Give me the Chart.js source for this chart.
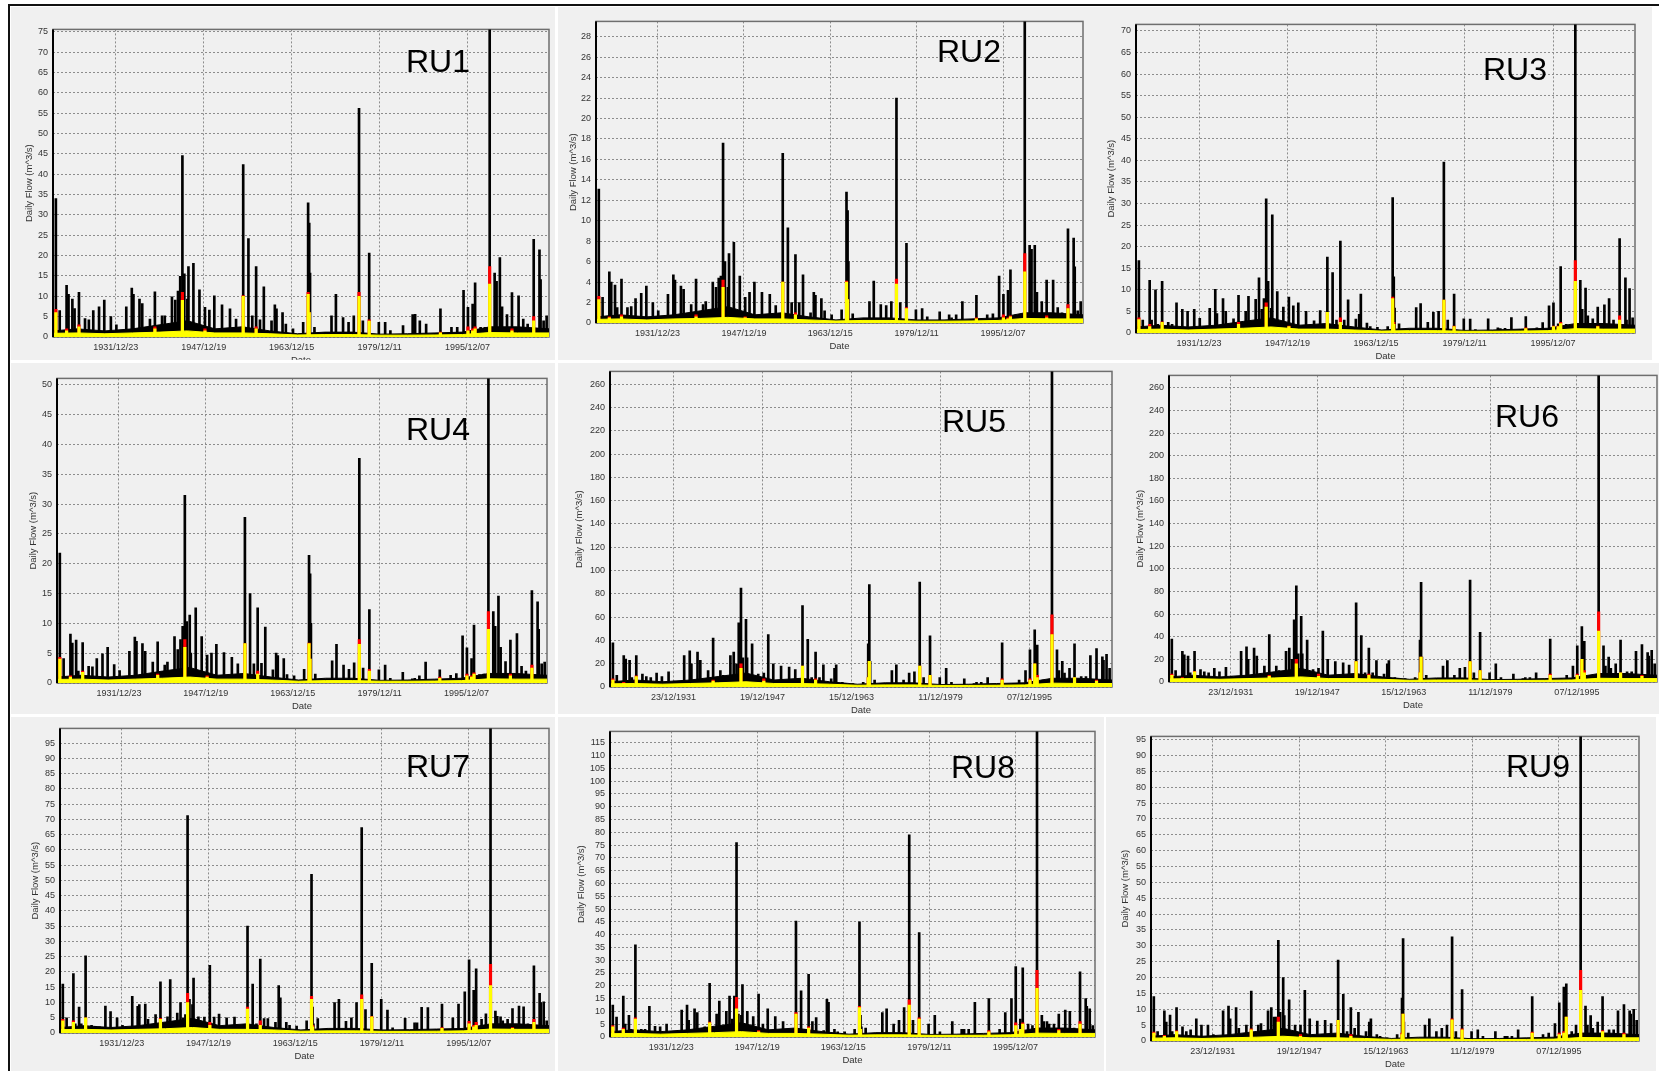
<!DOCTYPE html>
<html>
<head>
<meta charset="utf-8">
<title>Daily Flow RU1 - RU9</title>
<script src="https://cdn.jsdelivr.net/npm/chart.js@4.4.1/dist/chart.umd.min.js"></script>
<style>
  html, body { margin: 0; padding: 0; background: #fff; }
  body { width: 1659px; height: 1071px; position: relative; overflow: hidden; }
  .marco-sup { position: absolute; left: 8px; top: 4px; width: 1651px; height: 2px; background: #111; }
  .marco-izq { position: absolute; left: 8px; top: 4px; width: 2px; height: 1067px; background: #111; }
  .panel { position: absolute; background: #f0f0f0; overflow: hidden; }
  .panel canvas { position: absolute; }
</style>
</head>
<body>
<div class="marco-sup"></div>
<div class="marco-izq"></div>
<script>
// Fechas (año decimal) de los picos de caudal, comunes a las nueve subcuencas
var eventYears = [
  1921.1, 1921.8, 1923.05, 1923.4, 1924.1, 1924.5, 1925.3, 1926.4, 1927.1, 1927.9,
  1928.95, 1929.9, 1931.1, 1932.1, 1933.9, 1934.9, 1935.2, 1936.3, 1936.8, 1938.2,
  1939.1, 1940.4, 1940.9, 1942.2, 1942.8, 1943.3, 1943.7, 1944.1, 1944.45, 1945.0,
  1945.2, 1946.1, 1947.2, 1948.2, 1949.0, 1949.9, 1951.3, 1952.75, 1953.85, 1955.15,
  1956.1, 1956.8, 1957.5, 1958.2, 1958.9, 1960.3, 1960.9, 1961.2, 1962.3, 1962.9,
  1964.2, 1966.05, 1966.95, 1967.15, 1967.3, 1968.1, 1971.2, 1972.0, 1973.3, 1974.3,
  1975.25, 1976.2, 1976.9, 1978.05, 1979.8, 1980.95, 1981.9, 1984.2, 1985.95, 1986.4,
  1987.25, 1988.4, 1991.0, 1993.0, 1994.05, 1995.2, 1996.0, 1996.85, 1997.3, 1998.3,
  1999.1, 1999.95, 2000.85, 2001.2, 2001.8, 2002.2, 2003.1, 2004.0, 2005.2, 2006.05,
  2006.85, 2007.95, 2009.0, 2009.2, 2009.75, 2010.3
];

// Caudal diario en cada pico (m^3/s) - serie negra
var ru1Flow = [34, 6.5, 12.7, 10.5, 9.3, 7, 11, 4.5, 4.2, 6.5,
  7.4, 9.1, 5, 3, 7.4, 12, 10.5, 9.3, 8.2, 4.4,
  11.1, 5.2, 5.2, 9.9, 9.1, 11.3, 14.9, 44.6, 15.5, 9.3,
  17.3, 18.1, 11.6, 7.3, 6.6, 10.1, 7.9, 6.9, 4.4, 42.4,
  24.2, 5.2, 17.3, 4.2, 12.3, 4, 7.9, 6.9, 6, 3.2,
  2, 3.6, 33, 28, 15.7, 2.4, 5.2, 10.5, 4.8, 3.6,
  5.2, 56.2, 4, 20.6, 3.6, 3.6, 1.6, 2.8, 5.5, 5.6,
  4, 3.2, 6.9, 2.4, 2.4, 11.5, 7.3, 8.1, 13.3, 2.4,
  2.4, 80, 15.7, 13.7, 19.5, 7.4, 5.5, 10.9, 10.1, 4.4,
  3.2, 24, 21.4, 14.1, 4, 5.2];
var ru2Flow = [13.1, 2.5, 5, 4, 3.7, 1.5, 4.3, 1.5, 1.6, 2.4,
  2.9, 3.6, 2, 1.2, 2.8, 4.7, 4.2, 3.6, 3.3, 1.8,
  4.3, 1.8, 2.1, 4, 3.5, 4.4, 4.6, 17.6, 6, 3.5,
  6.8, 7.9, 4.6, 2.5, 3, 4, 3, 2.8, 1.7, 16.6,
  9.3, 2, 6.7, 2, 4.7, 1, 3, 2.7, 2.4, 1.2,
  0.8, 1.3, 12.8, 11, 6, 0.9, 2.1, 4.1, 1.8, 1.7,
  2.1, 22, 2, 7.8, 1.3, 1.4, 0.6, 1.1, 0.8, 0.5,
  0.8, 2.1, 2.7, 0.8, 0.9, 4.6, 2.8, 3.2, 5.2, 0.8,
  0.8, 32, 7.6, 7.2, 7.6, 3, 2.1, 4.2, 4.2, 1.5,
  1, 9.2, 8.3, 5.5, 1.2, 2.1];
var ru3Flow = [16.8, 3, 12.2, 3, 10, 2, 12, 2.5, 2, 7,
  5.5, 5, 5.5, 3.4, 5.7, 10.1, 4.5, 8, 5, 3.3,
  8.7, 5, 8.5, 7.8, 12.8, 5.5, 8, 31.1, 12, 5.7,
  27.4, 9.6, 6, 8.3, 6.3, 7, 5, 2.8, 5.2, 17.6,
  14, 3, 21.3, 3, 7.7, 3.2, 4.3, 9, 2.3, 1.5,
  1.3, 1.5, 31.4, 13, 5.8, 2.1, 5.9, 6.8, 2.5, 4.8,
  5, 39.6, 3, 9, 3.3, 3.2, 0.8, 3.3, 1.2, 1,
  1.1, 3.6, 3.8, 1.2, 2.4, 6.3, 7, 2.1, 15.4, 2,
  1.8, 75, 12.2, 5.5, 10.4, 4, 3.3, 6, 6.5, 8,
  3, 21.9, 12.8, 3, 10.3, 3.5];
var ru4Flow = [21.8, 4.1, 8.2, 6.7, 7.2, 2, 6.8, 2.8, 2.7, 4.1,
  4.9, 6, 3.1, 2.1, 5.3, 7.7, 7, 6.6, 5.3, 3.5,
  6.9, 3, 3.5, 7.8, 5.6, 7.3, 9.5, 31.5, 10.3, 11.4,
  5, 12.6, 7.8, 4.7, 5, 6.5, 5.1, 4.3, 3.2, 27.8,
  15, 3.2, 12.6, 3.3, 9.4, 2.2, 5, 4.6, 4.1, 1.4,
  1.2, 2.3, 21.4, 18.3, 10, 1.5, 3.7, 6.5, 3, 2.3,
  3.4, 37.7, 2.5, 12.3, 2.2, 3, 0.8, 1.8, 0.7, 0.8,
  1.2, 3.5, 2.2, 1.3, 1.6, 7.9, 5.9, 4.1, 9.7, 1.4,
  1.5, 55, 12, 9.5, 14.6, 6, 3.6, 7.2, 8.3, 2.8,
  2, 15.5, 13.6, 9, 3.2, 3.5];
var ru5Flow = [38, 10, 27, 24, 23, 8, 27, 11, 9, 8,
  12, 9, 13, 5, 27, 31, 20, 30, 23, 14,
  42, 14, 10, 27, 30, 20, 55, 85, 25, 58,
  25, 37, 11, 12, 45, 20, 18, 17, 15, 70,
  41, 8, 30, 8, 19, 7, 16, 19, 4, 3,
  3, 4, 37, 88, 22, 6, 14, 19, 6, 12,
  13, 90, 8, 44, 8, 16, 4, 7, 3, 4,
  4, 8, 38, 3, 6, 14, 32, 49, 36, 6,
  6, 290, 32, 14, 22, 12, 16, 37, 9, 9,
  27, 33, 26, 23, 28, 16];
var ru6Flow = ru5Flow; // RU5 y RU6 muestran la misma serie
var ru7Flow = [16, 5, 19.5, 3, 8.5, 3, 25.3, 2.5, 2.2, 2,
  8.8, 7, 5, 2.5, 12, 8.7, 9.3, 9.5, 4.5, 6,
  16.8, 5.3, 17.5, 6.5, 10, 5, 6, 71.2, 11, 9.3,
  18, 5.3, 5.2, 22.2, 5.2, 6.2, 5, 5.2, 2.3, 35,
  16, 3, 24.2, 4.7, 4.7, 3.5, 15.5, 11.5, 3.5, 2.5,
  2.3, 4, 52, 8.5, 3, 4.7, 10, 11, 3.8, 5,
  10, 67.3, 7.7, 22.8, 11, 7.5, 1.7, 4.8, 3.3, 3.3,
  8.4, 8.3, 9.5, 5, 9.5, 13.5, 24, 14, 21, 4.5,
  6.3, 110, 7.2, 5.5, 5.3, 4, 4.5, 8, 8.8, 8.6,
  3, 22, 13, 10, 10.2, 4];
var ru8Flow = [12.5, 7.8, 16, 5, 8.5, 3, 36, 3, 3, 12,
  4.2, 4, 5, 2, 10.5, 12.5, 6.5, 11, 9.5, 4,
  21, 9, 14, 10, 16, 7, 16, 76, 9, 8.5,
  20.5, 10, 8, 16.8, 5, 11, 8, 6, 3, 45.3,
  18, 3, 24.5, 6, 7.6, 2.5, 14.7, 13.5, 3, 2,
  2, 3, 45, 8.5, 4, 3.5, 9.5, 11, 5, 6.5,
  11.5, 79, 6.5, 40.8, 5, 8.5, 2, 6, 3, 3,
  3, 13.5, 15, 3, 9.5, 15, 27.5, 7, 27, 5,
  4.5, 130, 8.5, 6, 6, 5, 5, 9, 10.5, 10,
  3.5, 25.5, 15, 12, 11, 4.5];
var ru9Flow = [14, 3, 9.5, 6, 8.2, 3, 10.5, 4.5, 3, 3.5,
  7, 5, 5, 2, 9.5, 11, 7, 10.5, 4, 5,
  15.7, 5, 5.5, 9.5, 10.5, 7.5, 7.5, 31.7, 9, 20,
  8, 13, 5, 5, 16, 7, 6.3, 6.5, 5.5, 25.5,
  14.7, 3, 10.5, 4, 9, 3, 6, 7, 2, 1.5,
  1, 2, 13.5, 32.3, 6, 2.5, 5, 7, 3, 4,
  5, 32.8, 3, 16.2, 3, 3.5, 1.5, 3, 1.5, 1.5,
  1.5, 3.5, 14, 2, 2.5, 5.5, 12, 17, 18, 3,
  5, 105, 11, 5, 8, 4, 6, 14, 3.5, 3.5,
  9.5, 11.5, 9.5, 8.5, 10, 6.5];

// Picos con serie amarilla y roja
var markYears = [1921.1, 1923.05, 1925.3, 1939.1, 1944.1, 1948.2, 1955.15, 1957.5, 1966.95, 1967.15,
  1976.2, 1978.05, 1991.0, 1996.0, 1996.85, 1997.3, 1999.95, 2004.0, 2007.95];
var ru1Yellow = [6, 1.5, 2.5, 2, 9, 1.5, 10, 2, 10.5, 6, 10, 3.9, 1, 1.5, 1.5, 2, 13, 1.5, 4];
var ru1Red = [6.8, 2, 3, 2.5, 11, 2, 10.2, 2.5, 11, 6, 11, 4.2, 1.2, 2.5, 2, 2.5, 17.3, 2, 5];
var ru2Yellow = [2.3, 0.5, 0.6, 0.6, 3.5, 0.5, 4, 0.8, 4, 2.3, 3.8, 1.4, 0.4, 0.5, 0.4, 0.6, 5, 0.5, 1.4];
var ru2Red = [2.6, 0.6, 0.8, 0.8, 4.2, 0.6, 4, 1, 4.1, 2.3, 4.3, 1.5, 0.5, 0.8, 0.5, 0.7, 6.8, 0.7, 1.8];
var ru3Yellow = [3.1, 1.5, 2.5, 2, 6, 1.5, 4.8, 2.5, 8, 2, 7.6, 1.5, 1, 1.5, 1.5, 2.2, 12, 1.5, 3];
var ru3Red = [3.5, 2, 2.6, 2.5, 7, 1.6, 4.8, 3.5, 8.3, 2.5, 7.6, 1.6, 1.2, 1.6, 1.6, 2.5, 16.8, 1.6, 4];
var ru4Yellow = [4, 1, 1.8, 1.3, 6, 1, 6.6, 1.5, 6.6, 4, 6.5, 2, 0.8, 1.2, 1, 1.5, 9, 1.2, 2.5];
var ru4Red = [4.3, 1.2, 2, 1.5, 7.3, 1.2, 6.6, 2, 6.7, 4, 7.3, 2.3, 1, 1.5, 1.2, 1.7, 12, 1.5, 3];
var ru5Yellow = [6, 3, 9, 5, 16, 5, 18, 6, 8, 22, 18, 10, 6, 6, 20, 8, 45, 8, 5];
var ru5Red = [7, 4, 9.5, 6, 20, 7, 18, 7, 8, 22, 18, 10, 7, 7, 20, 10, 62, 8, 6];
var ru6Yellow = ru5Yellow;
var ru6Red = ru5Red;
var ru7Yellow = [4, 3.5, 5, 4.5, 10, 2.5, 7.8, 2.5, 11, 2, 11, 5.3, 1.5, 3, 2, 2.5, 15.5, 1.5, 3.5];
var ru7Red = [4.5, 4, 5, 4.8, 13, 3.5, 8.5, 4, 12, 2.5, 12.5, 5.5, 1.8, 3.8, 2.5, 3.5, 22.5, 1.8, 4.5];
var ru8Yellow = [4, 3, 7, 5.5, 11, 2, 9, 3.5, 11.5, 3, 12.5, 7, 2, 4.5, 3, 5, 19, 2.5, 5];
var ru8Red = [4.5, 3.5, 7.5, 5.8, 15.5, 2.5, 9.5, 4, 12, 3, 14.5, 7.5, 2.5, 5.5, 3, 5.5, 26, 3, 6];
var ru9Yellow = [2.5, 1.5, 3, 3.5, 6, 1.5, 6.5, 1.5, 2, 8.5, 6.7, 3.5, 2.5, 2, 2.5, 7.5, 16, 3, 2];
var ru9Red = [2.8, 1.8, 3.2, 3.8, 7.5, 2, 6.5, 2, 2.5, 8.5, 7, 3.8, 2.8, 2.5, 3, 7.5, 22.3, 3.3, 2.5];

// Nivel del caudal base (zona densa del fondo), negro y amarillo
var floorYears = [1920.58, 1925, 1930, 1935, 1940, 1945, 1950, 1955, 1960, 1965,
  1970, 1975, 1980, 1985, 1990, 1995, 2000, 2005, 2010.73];
var ru1Floor = [1.5, 2, 1.5, 2, 3, 4, 2, 2.5, 1.5, 0.8, 1.2, 1.2, 0.7, 0.8, 1, 1.2, 2.5, 2.5, 2];
var ru1Base = [0.9, 1, 0.8, 1, 1.2, 1.5, 1, 1, 0.8, 0.5, 0.6, 0.6, 0.45, 0.45, 0.5, 0.6, 1.1, 1, 1];
var ru2Floor = [0.6, 0.8, 0.6, 0.8, 1.2, 1.6, 0.8, 1, 0.6, 0.3, 0.5, 0.5, 0.3, 0.3, 0.4, 0.5, 1, 1, 0.8];
var ru2Base = [0.35, 0.4, 0.3, 0.4, 0.45, 0.55, 0.4, 0.4, 0.3, 0.2, 0.25, 0.25, 0.18, 0.18, 0.2, 0.25, 0.45, 0.4, 0.4];
var ru3Floor = [1.4, 1.8, 1.4, 1.8, 2.7, 3.5, 1.8, 2.2, 1.4, 0.7, 1.1, 1.1, 0.6, 0.7, 0.9, 1.1, 2.2, 2.2, 1.8];
var ru3Base = [0.8, 0.9, 0.7, 0.9, 1.1, 1.4, 0.9, 0.9, 0.7, 0.45, 0.55, 0.55, 0.4, 0.4, 0.45, 0.55, 1, 0.9, 0.9];
var ru4Floor = [1, 1.3, 1, 1.3, 2, 2.6, 1.3, 1.6, 1, 0.5, 0.8, 0.8, 0.45, 0.5, 0.65, 0.8, 1.6, 1.6, 1.3];
var ru4Base = [0.6, 0.65, 0.5, 0.65, 0.8, 1, 0.65, 0.65, 0.5, 0.3, 0.4, 0.4, 0.3, 0.3, 0.33, 0.4, 0.7, 0.65, 0.65];
var ru5Floor = [4.5, 6, 4.5, 6, 9, 12, 6, 7.5, 4.5, 2.4, 3.6, 3.6, 2.1, 2.4, 3, 3.6, 7.5, 7.5, 6];
var ru5Base = [2.7, 3, 2.4, 3, 3.6, 4.5, 3, 3, 2.4, 1.5, 1.8, 1.8, 1.35, 1.35, 1.5, 1.8, 3.3, 3, 3];
var ru6Floor = ru5Floor;
var ru6Base = ru5Base;
var ru7Floor = [1.8, 2.4, 1.8, 2.4, 3.6, 4.8, 2.4, 3, 1.8, 1, 1.5, 1.5, 1, 1.1, 1.3, 1.5, 3, 3, 2.4];
var ru7Base = [1.1, 1.2, 1, 1.2, 1.4, 1.8, 1.2, 1.2, 1, 0.6, 0.7, 0.7, 0.55, 0.55, 0.6, 0.7, 1.3, 1.2, 1.2];
var ru8Floor = [2.1, 2.8, 2.1, 2.8, 4.2, 5.6, 2.8, 3.5, 2.1, 1.1, 1.7, 1.7, 1, 1.1, 1.4, 1.7, 3.5, 3.5, 2.8];
var ru8Base = [1.3, 1.4, 1.1, 1.4, 1.7, 2.1, 1.4, 1.4, 1.1, 0.7, 0.85, 0.85, 0.65, 0.65, 0.7, 0.85, 1.5, 1.4, 1.4];
var ru9Floor = [1.5, 2, 1.5, 2, 3, 4, 2, 2.5, 1.5, 0.8, 1.2, 1.2, 0.7, 0.8, 1, 1.2, 2.5, 2.5, 2];
var ru9Base = [0.9, 1, 0.8, 1, 1.2, 1.5, 1, 1, 0.8, 0.5, 0.6, 0.6, 0.45, 0.45, 0.5, 0.6, 1.1, 1, 1];

// Ejes
var tickYears = [1931.975, 1947.965, 1963.953, 1979.942, 1995.932];
var labelsYMD = ['1931/12/23', '1947/12/19', '1963/12/15', '1979/12/11', '1995/12/07'];
var labelsDMY = ['23/12/1931', '19/12/1947', '15/12/1963', '11/12/1979', '07/12/1995'];
var panelNames = ['RU1', 'RU2', 'RU3', 'RU4', 'RU5', 'RU6', 'RU7', 'RU8', 'RU9'];
var yMax = [75.6, 29.5, 71.5, 51.1, 271, 271, 99.8, 119.4, 96];
var yStep = [5, 2, 5, 5, 20, 20, 5, 5, 5];

var flows = [ru1Flow, ru2Flow, ru3Flow, ru4Flow, ru5Flow, ru6Flow, ru7Flow, ru8Flow, ru9Flow];
var yellows = [ru1Yellow, ru2Yellow, ru3Yellow, ru4Yellow, ru5Yellow, ru6Yellow, ru7Yellow, ru8Yellow, ru9Yellow];
var reds = [ru1Red, ru2Red, ru3Red, ru4Red, ru5Red, ru6Red, ru7Red, ru8Red, ru9Red];
var floors = [ru1Floor, ru2Floor, ru3Floor, ru4Floor, ru5Floor, ru6Floor, ru7Floor, ru8Floor, ru9Floor];
var bases = [ru1Base, ru2Base, ru3Base, ru4Base, ru5Base, ru6Base, ru7Base, ru8Base, ru9Base];

// Posicion de cada captura en la lamina (px)
var paneles = [
  { caja: [11, 7, 544, 353], area: [53, 27, 549, 337], margen: 23, rotulo: [406, 72], dmy: false },
  { caja: [558, 7, 542, 353], area: [596, 19, 1083, 323], margen: 22, rotulo: [937, 62], dmy: false },
  { caja: [1100, 7, 552, 353], area: [1136, 22, 1635, 333], margen: 24, rotulo: [1483, 80], dmy: false },
  { caja: [11, 363, 544, 351], area: [57, 376, 547, 683], margen: 23, rotulo: [406, 440], dmy: false },
  { caja: [558, 363, 560, 351], area: [610, 369, 1112, 687], margen: 30, rotulo: [942, 432], dmy: true },
  { caja: [1118, 363, 541, 351], area: [1169, 373, 1657, 682], margen: 28, rotulo: [1495, 427], dmy: true },
  { caja: [11, 717, 544, 354], area: [60, 726, 549, 1033], margen: 24, rotulo: [406, 777], dmy: false },
  { caja: [558, 717, 546, 354], area: [610, 729, 1095, 1037], margen: 28, rotulo: [951, 778], dmy: false },
  { caja: [1106, 717, 550, 354], area: [1151, 734, 1639, 1041], margen: 25, rotulo: [1506, 777], dmy: true }
];

Chart.defaults.font.family = '"Liberation Sans", Arial, sans-serif';
Chart.defaults.color = '#333';

var marcoGrafico = {
  id: 'marcoGrafico',
  beforeDatasetsDraw: function (chart) {
    var a = chart.chartArea;
    var ctx = chart.ctx;
    ctx.save();
    ctx.strokeStyle = '#6e6e6e';
    ctx.lineWidth = 1.5;
    ctx.strokeRect(a.left, a.top, a.right - a.left, a.bottom - a.top);
    ctx.restore();
  },
  afterDatasetsDraw: function (chart) {
    var a = chart.chartArea;
    var ctx = chart.ctx;
    ctx.save();
    ctx.fillStyle = '#000';
    ctx.fillRect(a.left - 1, a.top, 2, a.bottom - a.top);
    ctx.restore();
  }
};

var rotuloPanel = {
  id: 'rotuloPanel',
  afterDraw: function (chart, args, opts) {
    var ctx = chart.ctx;
    ctx.save();
    ctx.font = '32px "Liberation Sans", Arial, sans-serif';
    ctx.fillStyle = '#000';
    ctx.fillText(opts.texto, opts.x, opts.y);
    ctx.restore();
  }
};

function pares(xs, ys) {
  var out = [];
  for (var i = 0; i < xs.length; i++) {
    out.push({ x: xs[i], y: ys[i] });
  }
  return out;
}

function crearPanel(n) {
  var p = paneles[n];
  var izq = p.margen + 6;
  var sup = 8, der = 8, inf = 29;
  var ancho = p.area[2] - p.area[0] + izq + der;
  var alto = p.area[3] - p.area[1] + sup + inf;
  var x0 = p.area[0] - izq;
  var y0 = p.area[1] - sup;

  var caja = document.createElement('div');
  caja.className = 'panel';
  caja.style.left = p.caja[0] + 'px';
  caja.style.top = p.caja[1] + 'px';
  caja.style.width = p.caja[2] + 'px';
  caja.style.height = p.caja[3] + 'px';
  document.body.appendChild(caja);

  var lienzo = document.createElement('canvas');
  lienzo.width = ancho;
  lienzo.height = alto;
  lienzo.style.width = ancho + 'px';
  lienzo.style.height = alto + 'px';
  lienzo.style.left = (x0 - p.caja[0]) + 'px';
  lienzo.style.top = (y0 - p.caja[1]) + 'px';
  caja.appendChild(lienzo);

  var fechas = p.dmy ? labelsDMY : labelsYMD;
  var rejilla = { color: '#8c8c8c', lineWidth: 1, drawTicks: false, offset: false };

  new Chart(lienzo, {
    type: 'bar',
    data: {
      datasets: [
        { type: 'bar', data: pares(markYears, yellows[n]), backgroundColor: '#ffff00', barThickness: 2.5, grouped: false, clip: 0, order: 1 },
        { type: 'line', data: pares(floorYears, bases[n]), backgroundColor: '#ffff00', borderColor: '#ffff00', borderWidth: 1, pointRadius: 0, fill: 'origin', clip: 0, order: 2 },
        { type: 'bar', data: pares(markYears, reds[n]), backgroundColor: '#ff0000', barThickness: 2.5, grouped: false, clip: 0, order: 3 },
        { type: 'bar', data: pares(eventYears, flows[n]), backgroundColor: '#000000', barThickness: 2, grouped: false, clip: 0, order: 4 },
        { type: 'line', data: pares(floorYears, floors[n]), backgroundColor: '#000000', borderColor: '#000000', borderWidth: 1, pointRadius: 0, fill: 'origin', clip: 0, order: 5 }
      ]
    },
    options: {
      responsive: false,
      animation: false,
      events: [],
      layout: { padding: { top: sup, right: der, left: 0, bottom: 0 } },
      plugins: {
        legend: { display: false },
        tooltip: { enabled: false },
        rotuloPanel: { texto: panelNames[n], x: p.rotulo[0] - x0, y: p.rotulo[1] - y0 }
      },
      scales: {
        x: {
          type: 'linear',
          min: 1920.58,
          max: 2010.73,
          offset: false,
          afterBuildTicks: function (eje) {
            eje.ticks = tickYears.map(function (v) { return { value: v }; });
          },
          afterFit: function (eje) { eje.height = inf; },
          ticks: {
            autoSkip: false,
            maxRotation: 0,
            padding: 5,
            color: '#333',
            font: { size: 9 },
            callback: function (v, i) { return fechas[i]; }
          },
          grid: rejilla,
          border: { display: false, dash: [2, 2] },
          title: { display: true, text: 'Date', padding: 0, color: '#333', font: { size: 9.5 } }
        },
        y: {
          min: 0,
          max: yMax[n],
          afterFit: function (eje) { eje.width = izq; },
          ticks: {
            stepSize: yStep[n],
            includeBounds: false,
            autoSkip: false,
            padding: 5,
            color: '#333',
            font: { size: 9 }
          },
          grid: rejilla,
          border: { display: false, dash: [2, 2] },
          title: { display: true, text: 'Daily Flow (m^3/s)', padding: 0, color: '#333', font: { size: 9.5 } }
        }
      }
    },
    plugins: [marcoGrafico, rotuloPanel]
  });
}

for (var k = 0; k < paneles.length; k++) {
  crearPanel(k);
}
</script>
</body>
</html>
